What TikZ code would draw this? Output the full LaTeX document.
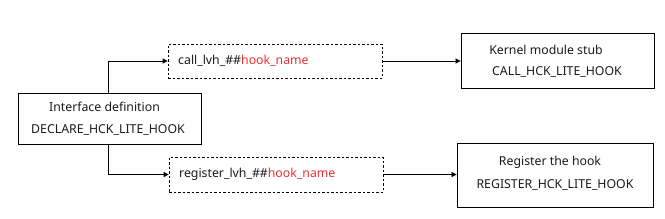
\documentclass[tikz,border=0pt]{standalone}
\usepackage{fontspec}
\setmainfont{Noto Sans}
\usetikzlibrary{arrows.meta,positioning}
\definecolor{txt}{HTML}{1A1A1A}
\definecolor{hk}{HTML}{E8312F}
\tikzset{
  solidbox/.style={draw=black, line width=0.8pt, inner sep=0pt},
  dashbox/.style={draw=black, dashed, dash pattern=on 2.5pt off 2pt, line width=0.7pt, inner sep=0pt},
  lbl/.style={font=\fontsize{12.3}{14}\selectfont, text=txt, inner sep=0pt},
  conn/.style={line width=0.7pt, -{Triangle[length=5pt,width=5pt]}},
}
\begin{document}
\begin{tikzpicture}[x=1pt,y=-1pt]
\useasboundingbox (0,0) rectangle (665,218);
% boxes
\node[solidbox, minimum width=183pt, minimum height=51pt] (iface) at (109.5,118.5) {};
\node[dashbox, minimum width=214pt, minimum height=34pt] (call) at (275,61) {};
\node[dashbox, minimum width=214pt, minimum height=35pt] (reg) at (276,174.5) {};
\node[solidbox, minimum width=193pt, minimum height=55pt] (kern) at (557.5,61) {};
\node[solidbox, minimum width=196pt, minimum height=64pt] (regh) at (555,175) {};
% texts
\node[lbl] (t1) at (104.5,107) {Interface definition};
\node[lbl] (t2) at (108,130) {DECLARE\_HCK\_LITE\_HOOK};
\node[lbl, anchor=west] (t3) at (178,61) {call\_lvh\_\#\#\textcolor{hk}{hook\_name}};
\node[lbl, anchor=west] (t4) at (179,174) {register\_lvh\_\#\#\textcolor{hk}{hook\_name}};
\node[lbl] (t5) at (546,50) {Kernel module stub};
\node[lbl] (t6) at (557,72) {CALL\_HCK\_LITE\_HOOK};
\node[lbl] (t7) at (550,162) {Register the hook};
\node[lbl] (t8) at (555,185) {REGISTER\_HCK\_LITE\_HOOK};
% connectors
\draw[conn] (iface.north -| 108,0) |- (call.west);
\draw[conn] (iface.south -| 108,0) |- (reg.west);
\draw[conn] (call.east) -- (kern.west |- call.east);
\draw[conn] (reg.east) -- (regh.west |- reg.east);
\end{tikzpicture}
\end{document}
